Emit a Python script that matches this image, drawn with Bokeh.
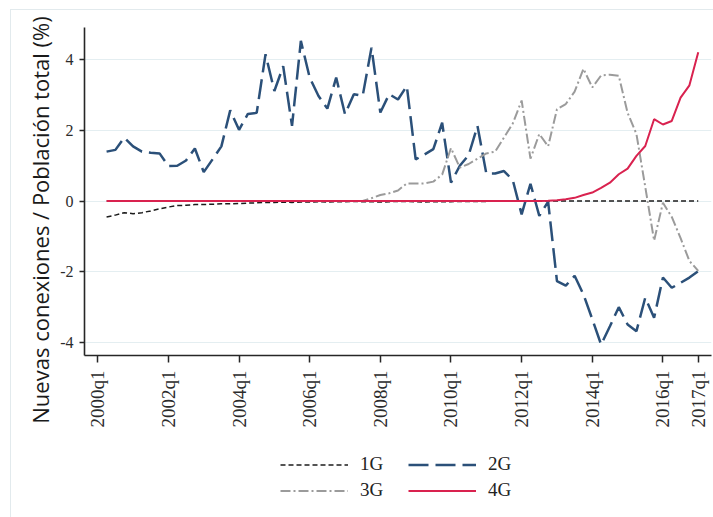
import math

from bokeh.embed import file_html
from bokeh.layouts import column, row
from bokeh.models import Div, FixedTicker, Legend, LegendItem, Range1d
from bokeh.plotting import figure
from bokeh.resources import INLINE

# Quarter index counted from 2000q1 (= 0); the series run 2000q2 .. 2017q1
quarters = list(range(1, 69))

tick_labels = ["2000q1", "2002q1", "2004q1", "2006q1", "2008q1",
               "2010q1", "2012q1", "2014q1", "2016q1", "2017q1"]
y_tick_values = [-4, -2, 0, 2, 4]
y_title = "Nuevas conexiones / Población total (%)"

# New connections as % of total population, by technology
g1 = [-0.45, -0.40, -0.33, -0.36, -0.33, -0.28, -0.22, -0.17, -0.13, -0.12,
      -0.10, -0.10, -0.09, -0.08, -0.08, -0.07, -0.06, -0.05, -0.04, -0.04,
      -0.03, -0.04, -0.03, -0.03, -0.02, -0.03, -0.02, -0.02, -0.01, -0.02,
      -0.02, -0.03, -0.02, -0.01, -0.01, -0.02, -0.03, -0.02, -0.02, -0.02,
      -0.01, -0.01, -0.01, -0.01, 0.0, 0.0, 0.0, 0.0, 0.0, 0.0,
      0.0, 0.0, 0.0, 0.0, 0.0, 0.0, 0.0, 0.0, 0.0, 0.0,
      0.0, 0.0, 0.0, 0.0, 0.0, 0.0, 0.0, 0.0]

g2 = [1.40, 1.45, 1.80, 1.55, 1.40, 1.37, 1.35, 0.99, 1.00, 1.15,
      1.49, 0.82, 1.18, 1.55, 2.57, 2.02, 2.47, 2.50, 4.16, 3.12,
      3.82, 2.13, 4.54, 3.50, 2.98, 2.62, 3.50, 2.46, 3.03, 2.98,
      4.35, 2.51, 3.03, 2.88, 3.26, 1.18, 1.32, 1.47, 2.22, 0.52,
      1.00, 1.30, 2.13, 0.78, 0.78, 0.85, 0.59, -0.38, 0.49, -0.42,
      -0.02, -2.27, -2.40, -2.12, -2.65, -3.35, -4.07, -3.55, -3.01, -3.50,
      -3.69, -2.74, -3.31, -2.17, -2.46, -2.32, -2.17, -1.99]

g3 = [0.0, 0.0, 0.0, 0.0, 0.0, 0.0, 0.0, 0.0, 0.0, 0.0,
      0.0, 0.0, 0.0, 0.0, 0.0, 0.0, 0.0, 0.0, 0.0, 0.0,
      0.0, 0.0, 0.0, 0.0, 0.0, 0.0, 0.0, 0.0, 0.0, 0.0,
      0.08, 0.17, 0.22, 0.30, 0.50, 0.50, 0.50, 0.55, 0.75, 1.50,
      0.95, 1.05, 1.20, 1.35, 1.40, 1.80, 2.20, 2.85, 1.20, 1.90,
      1.55, 2.60, 2.75, 3.10, 3.75, 3.22, 3.56, 3.58, 3.55, 2.50,
      1.90, 0.40, -1.12, -0.05, -0.45, -1.05, -1.70, -1.98]

g4 = [0.0, 0.0, 0.0, 0.0, 0.0, 0.0, 0.0, 0.0, 0.0, 0.0,
      0.0, 0.0, 0.0, 0.0, 0.0, 0.0, 0.0, 0.0, 0.0, 0.0,
      0.0, 0.0, 0.0, 0.0, 0.0, 0.0, 0.0, 0.0, 0.0, 0.0,
      0.0, 0.0, 0.0, 0.0, 0.0, 0.0, 0.0, 0.0, 0.0, 0.0,
      0.0, 0.0, 0.0, 0.0, 0.0, 0.0, 0.0, 0.0, 0.0, 0.0,
      0.005, 0.02, 0.05, 0.09, 0.17, 0.24, 0.37, 0.52, 0.76, 0.92,
      1.28, 1.56, 2.32, 2.17, 2.27, 2.93, 3.28, 4.22]

series_names = ["1G", "2G", "3G", "4G"]
series_values = [g1, g2, g3, g4]
series_styles = [
    dict(line_color="#1c1c1c", line_width=1.5, line_dash="5 3"),
    dict(line_color="#2b5079", line_width=2.5, line_dash="20 7"),
    dict(line_color="#9b9b9b", line_width=2, line_dash="10 3 2 3"),
    dict(line_color="#d9224f", line_width=2),
]

# tick positions follow from the "YYYYqN" labels
tick_pos = [(int(t[:4]) - 2000) * 4 + int(t[-1]) - 1 for t in tick_labels]

SERIF = "'Liberation Serif', serif"
SANS = "'Open Sans', sans-serif"

# ---- main chart --------------------------------------------------------
p = figure(
    width=658, height=422,
    x_range=Range1d(-1.5, 69.5), y_range=Range1d(-4.38, 4.92),
    output_backend="svg", toolbar_location=None,
    min_border_left=29, min_border_right=2, min_border_top=17, min_border_bottom=77,
    background_fill_color="white", border_fill_color="white",
)
p.outline_line_color = None

p.xaxis.ticker = FixedTicker(ticks=tick_pos)
p.xaxis.major_label_overrides = dict(zip(tick_pos, tick_labels))
p.xaxis.major_label_orientation = math.pi / 2
p.xaxis.major_tick_out = 7
p.xaxis.major_label_standoff = 8
p.xaxis.major_label_text_font_size = "19px"

p.yaxis.ticker = FixedTicker(ticks=y_tick_values)
p.yaxis.major_label_overrides = {v: str(v) for v in y_tick_values}
p.yaxis.major_tick_out = 5
p.yaxis.major_label_standoff = 6
p.yaxis.major_label_text_font_size = "16px"

for ax in p.axis:
    ax.minor_tick_line_color = None
    ax.major_tick_in = 0
    ax.axis_line_color = "#262626"
    ax.axis_line_width = 1.6
    ax.major_tick_line_color = "#262626"
    ax.major_tick_line_width = 1.5
    ax.major_label_text_font = SERIF
    ax.major_label_text_color = "#2b2b2b"

p.xgrid.visible = False
p.ygrid.ticker = FixedTicker(ticks=y_tick_values)
p.ygrid.grid_line_color = "#e4eef1"
p.ygrid.grid_line_width = 1.2

for ys, st in zip(series_values, series_styles):
    p.line(quarters, ys, **st)

# ---- vertical axis title, rotated text in a narrow strip ---------------
ytitle = Div(
    text=(
        '<div style="position:relative;width:44px;height:422px;">'
        '<div style="position:absolute;left:29px;top:210px;'
        'transform:translate(-50%,-50%) rotate(-90deg);white-space:nowrap;'
        "font-family:'Open Sans',sans-serif;font-size:22px;line-height:1;"
        f'color:#1a1a1a;">{y_title}</div></div>'
    ),
    width=44, height=422, margin=0,
    styles={"overflow": "visible"},
)

# ---- legend strip ------------------------------------------------------
# the key lines carry the series but sit outside this strip's visible range
leg_fig = figure(
    width=702, height=85, x_range=Range1d(-3, -2), y_range=Range1d(0, 1),
    x_axis_type=None, y_axis_type=None,
    output_backend="svg", toolbar_location=None,
    min_border_left=0, min_border_right=0, min_border_top=0, min_border_bottom=0,
    background_fill_color="white", border_fill_color="white",
)
leg_fig.outline_line_color = None
leg_fig.grid.visible = False
key_lines = [leg_fig.line(quarters, ys, **st) for ys, st in zip(series_values, series_styles)]

legend = Legend(
    items=[LegendItem(label=n, renderers=[r]) for n, r in zip(series_names, key_lines)],
    orientation="horizontal", ncols=2,
    location=(269, 16),
    glyph_width=68, glyph_height=21, label_height=21, label_width=44,
    label_standoff=12, spacing=4, padding=0, margin=0,
    border_line_color=None, background_fill_alpha=0,
    label_text_font=SERIF, label_text_font_size="19px", label_text_color="#222222",
)
leg_fig.add_layout(legend, "center")

layout = column(
    row(ytitle, p, spacing=0),
    leg_fig,
    spacing=0,
    margin=(9, 0, 0, 10),
    styles={"border-top": "1px solid #e2eaed", "border-left": "1px solid #e2eaed"},
)

open("out.html", "w").write(file_html(layout, INLINE))
